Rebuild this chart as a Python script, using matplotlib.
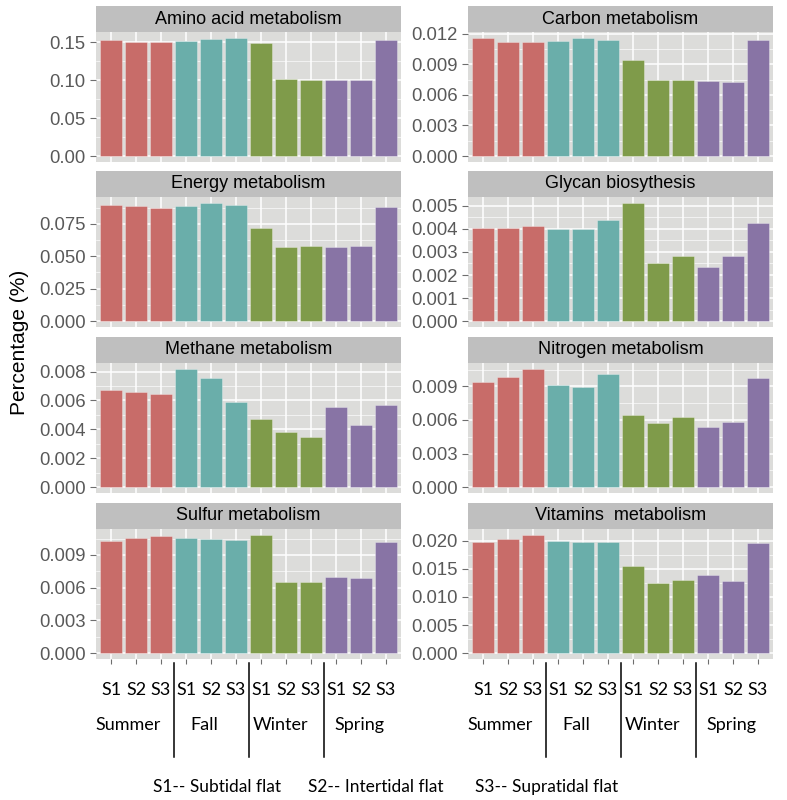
import matplotlib
matplotlib.use("Agg")
import matplotlib.pyplot as plt
from matplotlib.patches import Rectangle
from matplotlib.ticker import MultipleLocator, AutoMinorLocator, FormatStrFormatter
from matplotlib.transforms import blended_transform_factory


# --- data ---
sites = ["S1", "S2", "S3"] * 4
seasons = ["Summer", "Fall", "Winter", "Spring"]

amino = [0.1526, 0.1504, 0.1500, 0.1522, 0.1548, 0.1557,
         0.1496, 0.1022, 0.1009, 0.1009, 0.1004, 0.1526]
carbon = [0.01155, 0.01119, 0.01122, 0.01129, 0.01158, 0.01142,
          0.00944, 0.00743, 0.00743, 0.00736, 0.00726, 0.01138]
energy = [0.0894, 0.0889, 0.0871, 0.0891, 0.0912, 0.0899,
          0.0717, 0.0568, 0.0576, 0.0573, 0.0583, 0.0879]
glycan = [0.00406, 0.00403, 0.00411, 0.00401, 0.00399, 0.00437,
          0.00513, 0.00253, 0.00281, 0.00233, 0.00283, 0.00426]
methane = [0.00671, 0.00657, 0.00644, 0.00818, 0.00752, 0.00587,
           0.00469, 0.00383, 0.00344, 0.00553, 0.00431, 0.00571]
nitrogen = [0.00938, 0.00982, 0.01056, 0.00912, 0.00891, 0.01009,
            0.00645, 0.00572, 0.00622, 0.00537, 0.00584, 0.00971]
sulfur = [0.01029, 0.01053, 0.01071, 0.01056, 0.01047, 0.01032,
          0.01083, 0.00656, 0.00653, 0.00701, 0.00689, 0.01014]
vitamins = [0.01977, 0.02041, 0.02106, 0.02006, 0.01977, 0.01971,
            0.01554, 0.01243, 0.01296, 0.01384, 0.01290, 0.01965]

panel_titles = ["Amino acid metabolism", "Carbon metabolism",
                "Energy metabolism", "Glycan biosythesis",
                "Methane metabolism", "Nitrogen metabolism",
                "Sulfur metabolism", "Vitamins  metabolism"]
panel_values = [amino, carbon, energy, glycan,
                methane, nitrogen, sulfur, vitamins]
tick_steps = [0.05, 0.003, 0.025, 0.001, 0.002, 0.003, 0.003, 0.005]
tick_fmt = ["%.2f", "%.3f", "%.3f", "%.3f", "%.3f", "%.3f", "%.3f", "%.3f"]

legend_items = ["S1-- Subtidal flat", "S2-- Intertidal flat", "S3-- Supratidal flat"]

# --- style ---
season_colors = ["#C86C69", "#6AAEAA", "#7F9B4A", "#8874A5"]
PANEL_BG = "#DCDCDA"
STRIP_BG = "#BFBFBF"
TICK_TXT = "#595959"
TICK_CLR = "#6E6E6E"

W, H = 787, 800
col_left = [96, 468]
col_w = 305
row_top = [32, 197, 363, 529]
panel_h = 130
strip_h = 26

fig = plt.figure(figsize=(W / 100, H / 100), dpi=100)
fig.patch.set_facecolor("white")

xs = list(range(1, 13))
bar_colors = [season_colors[i // 3] for i in range(12)]

for k, (title, vals) in enumerate(zip(panel_titles, panel_values)):
    r, c = divmod(k, 2)
    ax = fig.add_axes([col_left[c] / W, 1 - (row_top[r] + panel_h) / H,
                       col_w / W, panel_h / H])
    ax.set_facecolor(PANEL_BG)
    ax.bar(xs, vals, width=0.9, color=bar_colors,
           edgecolor=(1, 1, 1, 0.35), linewidth=0.6, zorder=3)

    vmax = max(vals)
    ax.set_ylim(-0.05 * vmax, 1.05 * vmax)
    ax.set_xlim(0.4, 12.6)

    ax.yaxis.set_major_locator(MultipleLocator(tick_steps[k]))
    ax.yaxis.set_major_formatter(FormatStrFormatter(tick_fmt[k]))
    ax.yaxis.set_minor_locator(AutoMinorLocator(2))
    ax.set_xticks(xs)

    ax.grid(which="major", color="white", linewidth=1.1, zorder=0)
    ax.grid(which="minor", axis="y", color="white", linewidth=0.45, zorder=0)
    ax.set_axisbelow(True)
    for s in ax.spines.values():
        s.set_visible(False)

    ax.tick_params(axis="y", which="major", length=4.3, width=0.8,
                   color=TICK_CLR, labelcolor=TICK_TXT, labelsize=13.3, pad=3,
                   labelfontfamily="Liberation Sans")
    ax.tick_params(which="minor", length=0)

    if r == 3:
        ax.set_xticklabels(sites, fontsize=13, family="Lato", color="black")
        ax.tick_params(axis="x", length=3.6, width=0.8, color=TICK_CLR, pad=13)
        trans = blended_transform_factory(ax.transData, fig.transFigure)
        for xsep in (3.5, 6.5, 9.5):
            ax.plot([xsep, xsep], [1 - 663 / H, 1 - 757 / H], color="black",
                    lw=1.1, transform=trans, clip_on=False)
        for sx, name in zip([1.7, 4.75, 7.8, 10.95], seasons):
            ax.text(sx, 1 - 725 / H, name, transform=trans, ha="center",
                    va="center", fontsize=13, family="Lato", color="black")
    else:
        ax.tick_params(axis="x", length=0, labelbottom=False)

    # facet strip
    ax.add_patch(Rectangle((0, 1), 1, strip_h / panel_h, transform=ax.transAxes,
                           facecolor=STRIP_BG, edgecolor="none", clip_on=False))
    ax.text(0.5, 1 + strip_h / panel_h / 2, title, transform=ax.transAxes,
            ha="center", va="center", fontsize=13, family="Liberation Sans",
            color="black")

fig.text(20 / W, 1 - 342 / H, "Percentage (%)", rotation=90, ha="center",
         va="center", fontsize=15, family="Liberation Sans", color="black")

for lx, txt in zip([153, 308, 475], legend_items):
    fig.text(lx / W, 1 - 787 / H, txt, ha="left", va="center",
             fontsize=12.5, family="Lato", color="black")

fig.savefig("out.png", dpi=100, facecolor="white")
